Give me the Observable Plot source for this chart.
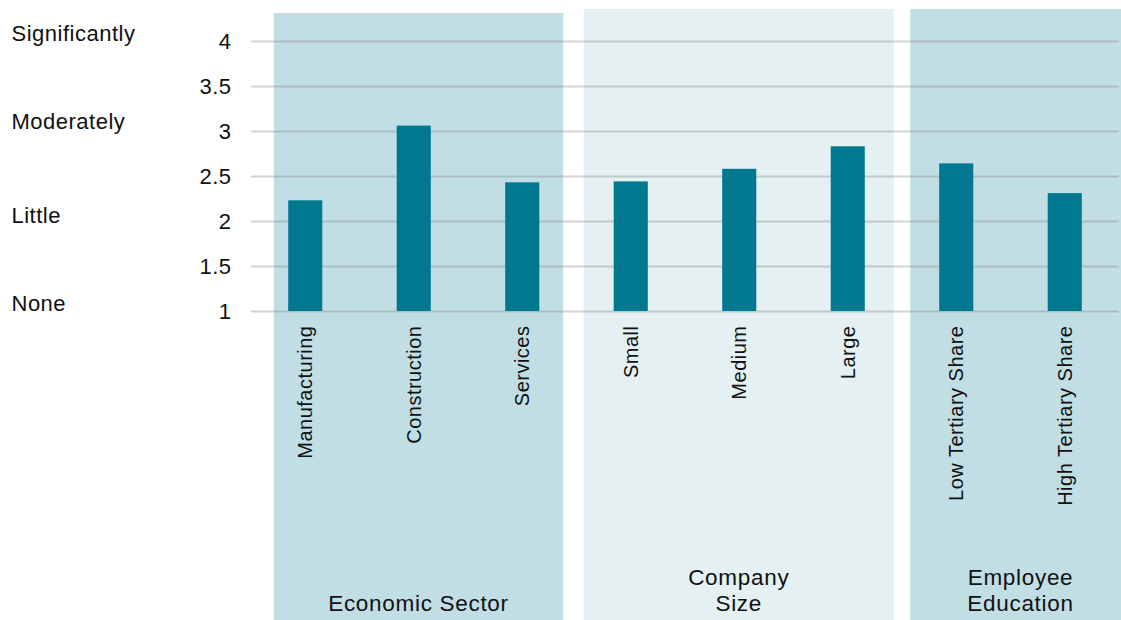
<!DOCTYPE html>
<html><head><meta charset="utf-8">
<script src="https://cdn.jsdelivr.net/npm/d3@7"></script>
<script src="https://cdn.jsdelivr.net/npm/@observablehq/plot@0.6"></script>
<style>
html,body{margin:0;padding:0;background:#fff;}
#chart{width:1121px;height:620px;overflow:hidden;}
</style></head><body><div id="chart"></div>
<script>
// ---- data ----
const categories = ["Manufacturing","Construction","Services","Small","Medium","Large","Low Tertiary Share","High Tertiary Share"];
const values = [2.23, 3.06, 2.43, 2.44, 2.58, 2.83, 2.64, 2.31];
const groupTitles = [["Economic Sector"], ["Company", "Size"], ["Employee", "Education"]];
const groupMembers = [["Manufacturing","Construction","Services"], ["Small","Medium","Large"], ["Low Tertiary Share","High Tertiary Share"]];
const yTicks = [1, 1.5, 2, 2.5, 3, 3.5, 4];
const scaleLabels = ["None", "Little", "Moderately", "Significantly"];
const scaleLabelPositions = [1.08, 2.06, 3.11, 4.08];

// ---- styles ----
const FONT = "Liberation Sans, Arial, Helvetica, sans-serif";
const BAR = "#00788f";
const panelStyles = [
  {fill: "#c1dee5", padLeft: 31.5, padRight: 41, topOffset: 28},
  {fill: "#e4f0f2", padLeft: 47, padRight: 46, topOffset: 32},
  {fill: "#c1dee5", padLeft: 46, padRight: 66, topOffset: 32}
];

const rows = categories.map((c, i) => ({category: c, value: values[i]}));
const W = 1121, H = 620;

const chart = Plot.plot({
  width: W, height: H,
  marginLeft: 251, marginRight: 2, marginTop: 41, marginBottom: 309,
  style: {fontFamily: FONT, background: "transparent", color: "#111"},
  x: {domain: categories, paddingInner: 0.686, paddingOuter: 0.343, round: false, axis: null},
  y: {domain: [1, 4], axis: null},
  marks: [
    Plot.ruleY(yTicks, {stroke: "#7d7d7d", strokeOpacity: 0.33, strokeWidth: 2}),
    Plot.barY(rows, {x: "category", y1: 1, y2: "value", fill: BAR}),
    Plot.axisY({ticks: yTicks, tickSize: 0, tickPadding: 20, fontSize: 22, label: null, tickFormat: d => String(d)}),
    Plot.text(categories, {x: d => d, y: () => 1, text: d => d, rotate: -90, textAnchor: "end", lineAnchor: "middle", dy: 14, fontSize: 20, fill: "#111"}),
    Plot.text(scaleLabels, {y: (d, i) => scaleLabelPositions[i], text: d => d, frameAnchor: "left", textAnchor: "start", dx: -240, fontSize: 22, fill: "#111"})
  ]
});

document.getElementById("chart").appendChild(chart);

// letter spacing tweaks
d3.select(chart).selectAll("text").style("letter-spacing", "0.5px");

// ---- background panels & group titles, positioned via Plot's scales ----
const xs = chart.scale("x"), ys = chart.scale("y");
const bw = xs.bandwidth;
const center = c => xs.apply(c) + bw / 2;
const svg = d3.select(chart);
const gPanels = svg.insert("g", ":first-child");
const gTitles = svg.append("g")
  .attr("font-family", FONT).attr("font-size", 22.5).attr("fill", "#111")
  .attr("text-anchor", "middle").style("letter-spacing", "0.7px");

groupMembers.forEach((members, gi) => {
  const st = panelStyles[gi];
  const left = center(members[0]) - st.padLeft;
  const right = center(members[members.length - 1]) + st.padRight;
  const top = ys.apply(4) - st.topOffset;
  gPanels.append("rect")
    .attr("x", left).attr("y", top)
    .attr("width", right - left).attr("height", H - top)
    .attr("fill", st.fill);
  const lines = groupTitles[gi];
  const cx = (left + right) / 2;
  lines.forEach((ln, li) => {
    gTitles.append("text")
      .attr("x", cx)
      .attr("y", H - 9 - (lines.length - 1 - li) * 26)
      .text(ln);
  });
});
</script>
</body></html>
